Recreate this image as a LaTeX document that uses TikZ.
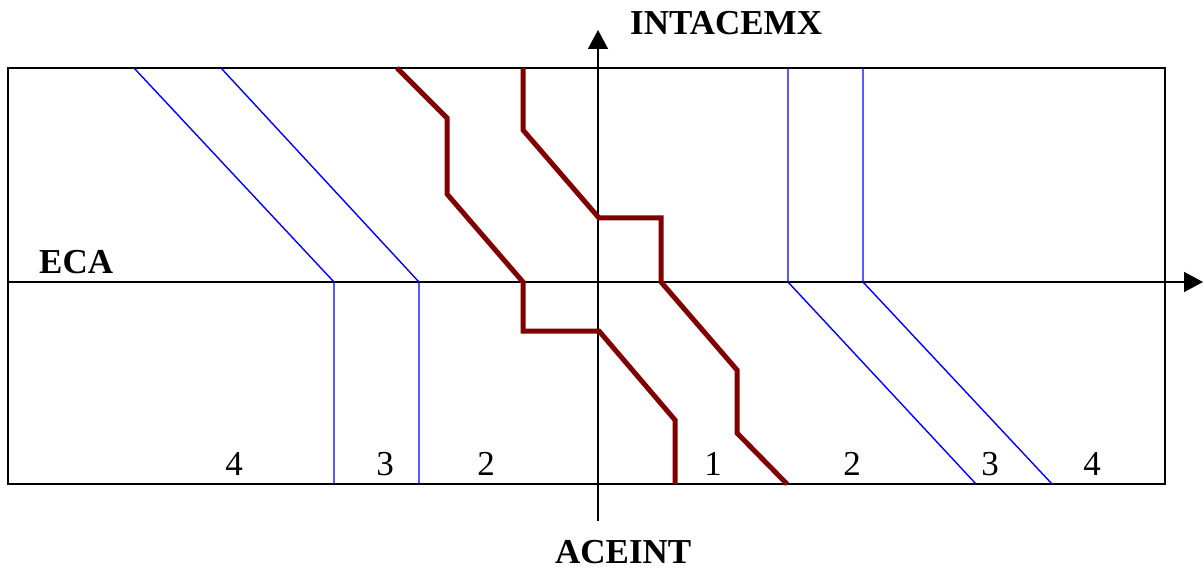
\documentclass[tikz,border=0pt]{standalone}
\usepackage{fontspec}
\setmainfont{Liberation Serif}
\usetikzlibrary{arrows.meta}
\begin{document}
\begin{tikzpicture}[x=1pt,y=-1pt,
  frame/.style={line width=1.8pt,black},
  axis/.style={line width=1.5pt,black,-{Triangle[length=19pt,width=20pt]}},
  iso/.style={line width=1.4pt,draw={rgb,255:red,0;green,0;blue,255}},
  zone/.style={line width=5pt,draw={rgb,255:red,128;green,0;blue,0}},
  axlabel/.style={inner sep=0pt,font=\fontsize{35}{40}\selectfont\bfseries},
  numlabel/.style={inner sep=0pt,anchor=base,font=\fontsize{35}{40}\selectfont}]
\useasboundingbox (0,0) rectangle (1204,569);
% frame
\draw[frame] (8,68) rectangle (1165,484);
% axes
\coordinate (xs) at (8,282);
\coordinate (xe) at (1203,282);
\coordinate (ys) at (598,521);
\coordinate (ye) at (598,30);
\draw[axis] (xs) -- (xe);
\draw[axis] (ys) -- (ye);
% blue lines
\draw[iso] (134,68) -- (334,282) -- (334,484);
\draw[iso] (221,68) -- (419,282) -- (419,484);
\draw[iso] (788,68) -- (788,282) -- (976,484);
\draw[iso] (863,68) -- (863,282) -- (1052,484);
% dark red lines
\draw[zone] (397,68) -- (447,118) -- (447,194) -- (523,282) -- (523,331) -- (599,331) -- (675,420) -- (675,484);
\draw[zone] (523,68) -- (523,130) -- (599,218) -- (661,218) -- (661,282) -- (737,370) -- (737,433) -- (787,484);
% labels
\node[axlabel,anchor=base west] (intacemx) at (630,35) {INTACEMX};
\node[axlabel,anchor=base west] (eca) at (39,273) {ECA};
\node[axlabel,anchor=base west] (aceint) at (555,563) {ACEINT};
\node[numlabel] (n4l) at (234,475) {4};
\node[numlabel] (n3l) at (385,475) {3};
\node[numlabel] (n2l) at (486,475) {2};
\node[numlabel] (n1) at (713,475) {1};
\node[numlabel] (n2r) at (852,475) {2};
\node[numlabel] (n3r) at (990,475) {3};
\node[numlabel] (n4r) at (1092,475) {4};
\end{tikzpicture}
\end{document}
